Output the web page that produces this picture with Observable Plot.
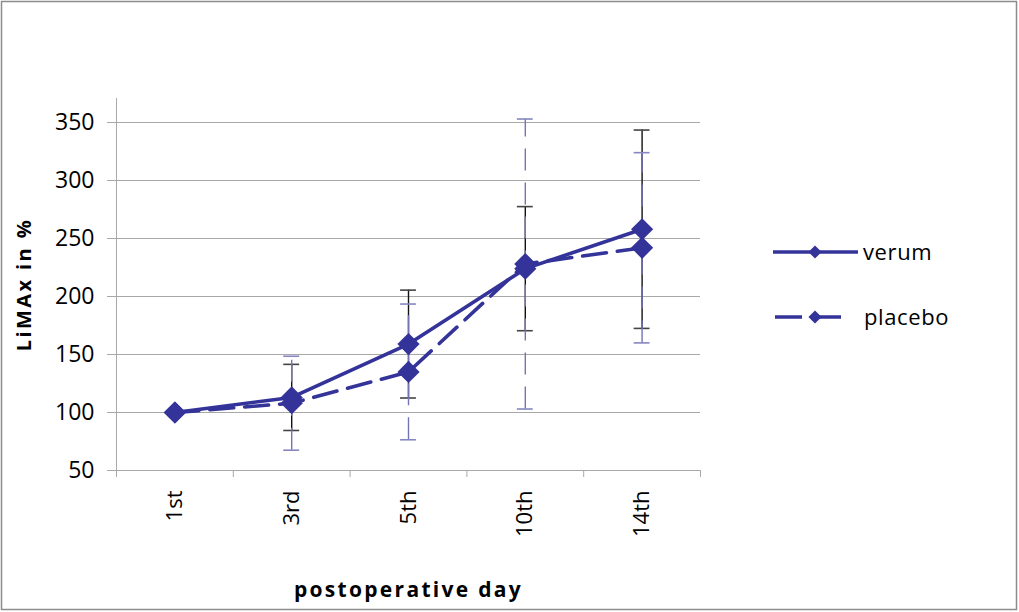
<!DOCTYPE html>
<html><head><meta charset="utf-8">
<script src="https://cdn.jsdelivr.net/npm/d3@7"></script>
<script src="https://cdn.jsdelivr.net/npm/@observablehq/plot@0.6"></script>
<style>
body{margin:0;background:#fff}
#chart{position:relative;width:1019px;height:612px}
</style>
</head><body><div id="chart"></div>
<script>
// ---- data ----
const days = ["1st", "3rd", "5th", "10th", "14th"];
const verum = [100, 113, 159, 224, 258];
const verumErr = [0, 28.5, 46.5, 53.5, 85.5];
const placebo = [100, 108, 135, 228, 242];
const placeboErr = [0, 40.5, 58.5, 125, 82];
const yTicks = [50, 100, 150, 200, 250, 300, 350];
const seriesNames = ["verum", "placebo"];
const xLabel = "postoperative day";
const yLabel = "LiMAx in %";

// ---- tables ----
const rows = [];
days.forEach((d, i) => {
  rows.push({series: seriesNames[0], day: d, pos: i + 0.5, value: verum[i], err: verumErr[i]});
  rows.push({series: seriesNames[1], day: d, pos: i + 0.5, value: placebo[i], err: placeboErr[i]});
});
const vRows = rows.filter(r => r.series === "verum");
const pRows = rows.filter(r => r.series === "placebo");
const caps = rs => rs.filter(r => r.err > 0).flatMap(r => [
  {pos: r.pos, y: r.value - r.err}, {pos: r.pos, y: r.value + r.err}
]);
const cap = 0.068;
const blue = "#333399";
const grid = "#a8a8a8";

const chart = Plot.plot({
  width: 1019, height: 612,
  marginLeft: 116, marginRight: 319, marginTop: 98, marginBottom: 142,
  style: {fontFamily: "'Open Sans', sans-serif", background: "white", color: "black", overflow: "visible"},
  x: {type: "linear", domain: [0, days.length], label: null},
  y: {domain: [50, 370.7], label: null},
  marks: [
    Plot.gridY(yTicks, {stroke: grid, strokeOpacity: 1, strokeWidth: 1}),
    Plot.ruleX([0], {stroke: grid, strokeWidth: 1}),
    Plot.ruleY([50], {stroke: grid, strokeWidth: 1}),
    Plot.axisY(yTicks, {tickSize: 9, tickPadding: 13, fontSize: 23, stroke: grid, fill: "black", label: null}),
    Plot.axisX(d3.range(days.length + 1), {tickSize: 7, tickFormat: () => "", stroke: grid, label: null}),
    Plot.axisX(days.map((d, i) => i + 0.5), {tickSize: 0, tickPadding: 20, tickRotate: -90, fontSize: 22,
      tickFormat: v => days[Math.floor(v)], fill: "black", label: null}),
    // verum error bars
    Plot.ruleX(vRows.filter(r => r.err > 0), {x: "pos", y1: d => d.value - d.err, y2: d => d.value + d.err,
      stroke: "#111", strokeWidth: 1.4}),
    Plot.ruleY(caps(vRows), {y: "y", x1: d => d.pos - cap, x2: d => d.pos + cap, stroke: "#444", strokeWidth: 1.6}),
    // placebo error bars
    Plot.ruleX(pRows.filter(r => r.err > 0), {x: "pos", y1: d => d.value - d.err, y2: d => d.value + d.err,
      stroke: "#7474b4", strokeWidth: 1.4, strokeDasharray: "22,12"}),
    Plot.ruleY(caps(pRows), {y: "y", x1: d => d.pos - cap, x2: d => d.pos + cap, stroke: "#8686c0", strokeWidth: 1.6}),
    // lines
    Plot.line(pRows, {x: "pos", y: "value", stroke: blue, strokeWidth: 3.6, strokeDasharray: "24,11"}),
    Plot.line(vRows, {x: "pos", y: "value", stroke: blue, strokeWidth: 3.6}),
    Plot.dot(rows, {x: "pos", y: "value", symbol: "diamond2", r: 10, fill: blue, stroke: "none"}),
    // axis titles
    Plot.text([yLabel], {text: d => d, frameAnchor: "left", dx: -92, rotate: -90, textAnchor: "middle",
      lineAnchor: "middle", fontSize: 20, fontWeight: "bold", fill: "black"}),
    Plot.text([xLabel], {text: d => d, frameAnchor: "bottom", dy: 120, textAnchor: "middle",
      lineAnchor: "middle", fontSize: 21, fontWeight: "bold", fill: "black"})
  ]
});

const svg = d3.select(chart);
svg.selectAll("text").filter(function () { return this.textContent === yLabel; }).style("letter-spacing", "2.4px");
svg.selectAll("text").filter(function () { return this.textContent === xLabel; }).style("letter-spacing", "2.3px");

// border
svg.append("rect").attr("x", 1.5).attr("y", 1.5).attr("width", 1015).attr("height", 608)
  .attr("fill", "none").attr("stroke", "#8c8c8c").attr("stroke-width", 1.5);

// legend
const leg = svg.append("g").attr("font-family", "'Open Sans', sans-serif").attr("font-size", 22)
  .attr("text-anchor", "start");
const items = [
  {name: seriesNames[0], y: 252, dash: null, x1: 773, x2: 858, tx: 863},
  {name: seriesNames[1], y: 317, dash: "27,12", x1: 775, x2: 847, tx: 864}
];
const diamond = d3.symbol(d3.symbolDiamond2, 110)();
items.forEach(it => {
  const ln = leg.append("line").attr("x1", it.x1).attr("x2", it.x2).attr("y1", it.y).attr("y2", it.y)
    .attr("stroke", blue).attr("stroke-width", 3.6);
  if (it.dash) ln.attr("stroke-dasharray", it.dash);
  leg.append("path").attr("d", diamond).attr("transform", `translate(815,${it.y})`).attr("fill", blue);
  leg.append("text").attr("x", it.tx).attr("y", it.y).attr("dy", "0.35em").attr("fill", "black")
    .attr("text-anchor", "start").style("letter-spacing", "0.6px").text(it.name);
});

document.getElementById("chart").appendChild(chart);
</script>
</body></html>
